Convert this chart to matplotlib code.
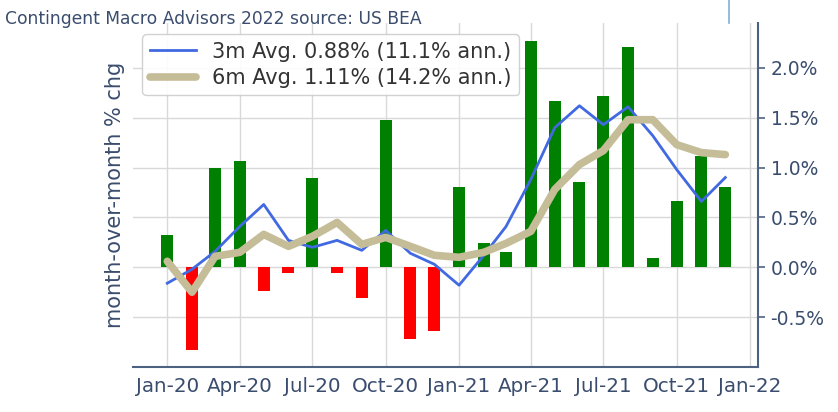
import numpy as np
import pandas as pd
import matplotlib
matplotlib.use("Agg")
import matplotlib.pyplot as plt
import matplotlib.dates as mdates
from matplotlib.lines import Line2D

# monthly % change, Jan-20 .. Dec-21
months = pd.date_range("2020-01-01", periods=24, freq="MS")
mom_chg = [0.32, -0.83, 1.00, 1.07, -0.24, -0.06, 0.90, -0.06, -0.31, 1.48, -0.72, -0.64,
           0.81, 0.24, 0.15, 2.27, 1.67, 0.86, 1.72, 2.21, 0.09, 0.66, 1.12, 0.81]
avg_3m = [-0.16, -0.02, 0.16, 0.41, 0.63, 0.27, 0.20, 0.27, 0.17, 0.37, 0.14, 0.03,
          -0.18, 0.12, 0.41, 0.88, 1.40, 1.62, 1.43, 1.61, 1.32, 0.98, 0.66, 0.90]
avg_6m = [0.06, -0.25, 0.11, 0.15, 0.33, 0.21, 0.31, 0.45, 0.23, 0.30, 0.21, 0.12,
          0.10, 0.15, 0.24, 0.36, 0.78, 1.03, 1.17, 1.48, 1.48, 1.23, 1.15, 1.13]
label_3m = "3m Avg. 0.88% (11.1% ann.)"
label_6m = "6m Avg. 1.11% (14.2% ann.)"

TXT = "#3a4d6e"
SPINE = "#4d6283"

fig = plt.figure(figsize=(8.38, 4.12), dpi=100)
ax = fig.add_axes([133 / 838, 45 / 412, 625 / 838, 344 / 412])

colors = ["green" if v >= 0 else "red" for v in mom_chg]
ax.bar(months, mom_chg, width=15, color=colors, zorder=3)
ax.plot(months, avg_3m, color="royalblue", lw=2.0, label=label_3m, zorder=4)
ax.plot(months, avg_6m, color="#c5bd98", lw=5.5, solid_capstyle="round",
        label=label_6m, zorder=5)

ax.grid(True, color="#d9d9d9", lw=1.0, zorder=0)
ax.axhline(0, color="white", lw=1.6, ls=(1.5, (3, 3)), zorder=1)

ax.set_xlim(pd.Timestamp("2019-11-19"), pd.Timestamp("2022-01-11"))
ax.set_ylim(-1.0, 2.45)
ax.xaxis.set_major_locator(mdates.MonthLocator(bymonth=[1, 4, 7, 10]))
ax.xaxis.set_major_formatter(mdates.DateFormatter("%b-%y"))
ax.set_yticks([-0.5, 0.0, 0.5, 1.0, 1.5, 2.0])
ax.yaxis.set_major_formatter(plt.FuncFormatter(lambda v, _: f"{v:.1f}%"))

ax.yaxis.tick_right()
ax.yaxis.set_label_position("left")
ax.set_ylabel("month-over-month % chg", fontsize=15, color=TXT, labelpad=6)
ax.tick_params(axis="y", colors=SPINE, labelcolor=TXT, labelsize=13.5,
               length=5, width=1.2, pad=4)
ax.tick_params(axis="x", length=0, labelcolor=TXT, labelsize=14.3, pad=7)

for side in ("left", "top"):
    ax.spines[side].set_visible(False)
for side in ("right", "bottom"):
    ax.spines[side].set_color(SPINE)
    ax.spines[side].set_linewidth(1.5)

leg = ax.legend(loc="upper left", bbox_to_anchor=(0.015, 0.967), fontsize=15,
                handlelength=2.2, handletextpad=0.8, labelspacing=0.3,
                borderpad=0.35, borderaxespad=0.0, framealpha=0.9)
for t in leg.get_texts():
    t.set_color("#333333")

fig.text(0.006, 0.975, "Contingent Macro Advisors 2022 source: US BEA",
         fontsize=12.3, color=TXT, va="top", ha="left")
fig.add_artist(Line2D([729 / 838, 729 / 838], [1.0, 1 - 23 / 412],
                      color="#7fb0d8", lw=1.2))

fig.savefig("out.png", dpi=100)
